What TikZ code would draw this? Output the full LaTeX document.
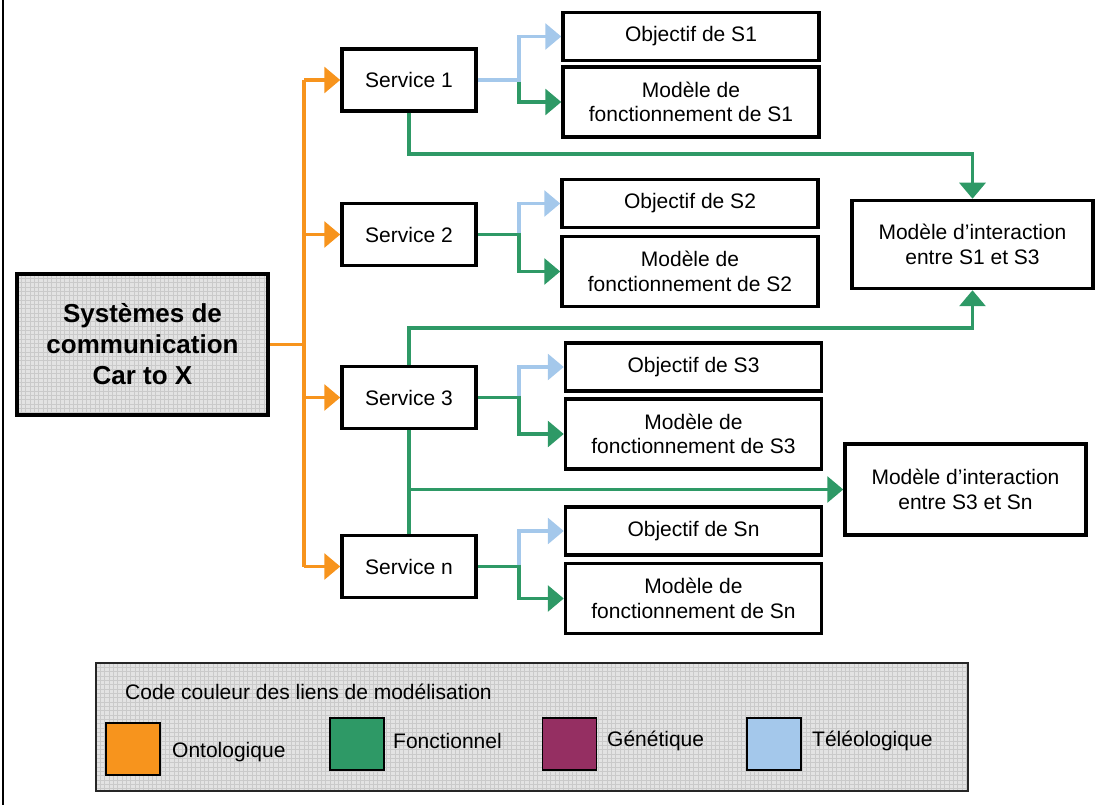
\documentclass[tikz,border=0pt]{standalone}
\usepackage{fontspec}
\setmainfont{Liberation Sans}
\usetikzlibrary{arrows.meta,backgrounds}
\definecolor{cOnt}{HTML}{F7941D}
\definecolor{cFon}{HTML}{2E9966}
\definecolor{cGen}{HTML}{952F62}
\definecolor{cTel}{HTML}{A4C8EB}
\definecolor{cGridFill}{HTML}{E3E3E3}
\definecolor{cGridLine}{HTML}{CACACA}
\begin{document}
\begin{tikzpicture}[x=1pt,y=-1pt,
  box/.style={draw=black,line width=3.5pt,fill=white,inner sep=0pt,align=center,font=\fontsize{21}{24.5}\selectfont},
  svc/.style={box,minimum width=134pt,minimum height=62pt},
  obj/.style={box,minimum width=256pt,minimum height=48pt},
  mod/.style={box,minimum width=256pt,minimum height=70pt},
  inter/.style={box,minimum width=241pt,minimum height=88pt},
  link/.style={line width=3.2pt},
  tip/.style={-{Triangle[length=16pt,width=26pt]}},
  ont/.style={link,draw=cOnt,color=cOnt},
  fon/.style={link,draw=cFon,color=cFon},
  tel/.style={link,draw=cTel,color=cTel},
  gridln/.style={draw=cGridLine,line width=0.5pt},
  swatch/.style={draw=black,line width=1.5pt,minimum width=54pt,minimum height=52pt,inner sep=0pt},
  legtxt/.style={anchor=west,inner sep=0pt,font=\fontsize{21}{24.5}\selectfont}
]
\useasboundingbox (0,0) rectangle (1112,805);
\draw[line width=2.5pt] (3,0) -- (3,805);

% main box
\node[draw=black,line width=4.5pt,inner sep=0pt,align=center,minimum width=251pt,minimum height=141pt,
      font=\bfseries\fontsize{26}{31}\selectfont] (main) at (142.5,344.5) {Systèmes de\\communication\\Car to X};
\begin{pgfonlayer}{background}
  \fill[cGridFill] (17,274) rectangle (268,415);
  \foreach \i in {0,...,58} {\draw[gridln] (17+\i*4.33,274) -- (17+\i*4.33,415);}
  \foreach \i in {0,...,32} {\draw[gridln] (17,274+\i*4.33) -- (268,274+\i*4.33);}
\end{pgfonlayer}

% services
\node[svc] (S1) at (409,80) {Service 1};
\node[svc] (S2) at (409,234.5) {Service 2};
\node[svc] (S3) at (409,397.5) {Service 3};
\node[svc] (Sn) at (409,566.5) {Service n};

% objectives and models
\node[obj] (O1) at (691,36.5) {Objectif de S1};
\node[mod] (M1) at (691,102) {Modèle de\\fonctionnement de S1};
\node[obj] (O2) at (690,203.5) {Objectif de S2};
\node[mod] (M2) at (690,271.5) {Modèle de\\fonctionnement de S2};
\node[obj] (O3) at (693.5,367) {Objectif de S3};
\node[mod] (M3) at (693.5,434) {Modèle de\\fonctionnement de S3};
\node[obj] (On) at (693.5,531) {Objectif de Sn};
\node[mod] (Mn) at (693.5,598.5) {Modèle de\\fonctionnement de Sn};

% interactions
\node[inter] (I1) at (972.5,244.5) {Modèle d’interaction\\entre S1 et S3};
\node[inter,minimum height=91pt] (I2) at (965.5,489.5) {Modèle d’interaction\\entre S3 et Sn};

% ontological links
\coordinate (tx) at (304,0);
\draw[ont] (main.east) -- (main.east -| tx);
\draw[ont] (S1.west -| tx) -- (Sn.west -| tx);
\foreach \s in {S1,S2,S3,Sn} {\draw[ont,tip] (\s.west -| tx) -- (\s.west);}

% service -> objective / model
\coordinate (jx) at (519,0);
\draw[fon,tip] (S1.east) -- (S1.east -| jx) |- (M1.west);
\draw[tel,tip] (S1.east) -- (S1.east -| jx) |- (O1.west);
\draw[tel,tip] (S2.east -| jx) |- (O2.west);
\draw[fon,tip] (S2.east) -- (S2.east -| jx) |- (M2.west);
\draw[tel,tip] (S3.east -| jx) |- (O3.west);
\draw[fon,tip] (S3.east) -- (S3.east -| jx) |- (M3.west);
\draw[tel,tip] (Sn.east -| jx) |- (On.west);
\draw[fon,tip] (Sn.east) -- (Sn.east -| jx) |- (Mn.west);

% interaction links
\coordinate (k1) at (972.5,154);
\coordinate (k2) at (972.5,328);
\coordinate (k3) at (409,489.5);
\draw[fon,tip] (S1.south) |- (k1) -- (I1.north);
\draw[fon,tip] (S3.north) |- (k2) -- (I1.south);
\draw[fon] (S3.south) -- (Sn.north);
\draw[fon,tip] (k3) -- (I2.west);

% legend
\node[draw=black!85,line width=1.5pt,minimum width=872pt,minimum height=128pt,inner sep=0pt] (leg) at (532,727) {};
\begin{pgfonlayer}{background}
  \fill[cGridFill] (96,663) rectangle (968,791);
  \foreach \i in {0,...,201} {\draw[gridln] (96+\i*4.33,663) -- (96+\i*4.33,791);}
  \foreach \i in {0,...,29} {\draw[gridln] (96,663+\i*4.33) -- (968,663+\i*4.33);}
\end{pgfonlayer}
\node[legtxt] (lt) at (125,692) {Code couleur des liens de modélisation};
\node[swatch,fill=cOnt] (w1) at (133,749) {};
\node[swatch,fill=cFon] (w2) at (357,744) {};
\node[swatch,fill=cGen] (w3) at (569.5,744) {};
\node[swatch,fill=cTel] (w4) at (774,744) {};
\node[legtxt] (l1) at (172,752) {Ontologique};
\node[legtxt] (l2) at (393,741) {Fonctionnel};
\node[legtxt] (l3) at (607,741) {Génétique};
\node[legtxt] (l4) at (812,741) {Téléologique};
\end{tikzpicture}
\end{document}
